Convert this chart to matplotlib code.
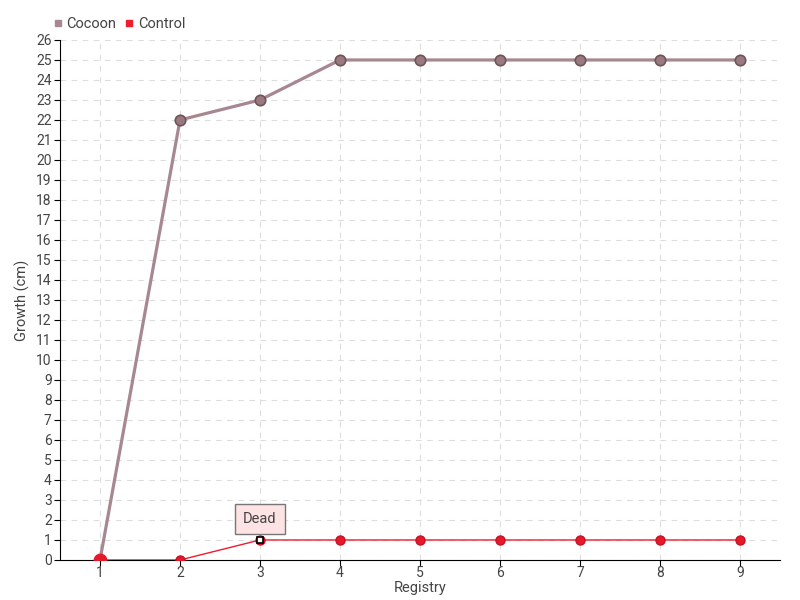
import matplotlib
matplotlib.use("Agg")
from matplotlib import pyplot as plt
from matplotlib.lines import Line2D

registry = [1, 2, 3, 4, 5, 6, 7, 8, 9]
cocoon = [0, 22, 23, 25, 25, 25, 25, 25, 25]
control = [0, 0, 1, 1, 1, 1, 1, 1, 1]
dead_at = (3, 1)

plt.rcParams['font.family'] = ['Roboto', 'DejaVu Sans']

fig = plt.figure(figsize=(8, 6), dpi=100)
ax = fig.add_axes([0.075, 0.0667, 0.9, 0.8667])

ax.plot(registry, cocoon, color='#a88890', lw=2.3, marker='o', ms=7.5,
        mfc='#9a7a80', mec='#6e5458', mew=1.2, zorder=3)
ax.plot(registry, control, color='#ee1c2c', lw=1, marker='o', ms=6.5,
        mfc='#e41a2c', mec='#c81020', zorder=4)
ax.plot(registry[0], control[0], 'o', ms=9, color='#e41a2c', zorder=5)
ax.plot(*dead_at, marker='s', ms=4.5, mfc='white', mec='black', mew=1.2, zorder=6)

ax.annotate('Dead', xy=dead_at, xytext=(0, 15), textcoords='offset points',
            ha='center', va='center', fontsize=10.5, color='#444444',
            bbox=dict(boxstyle='square,pad=0.55', fc='#fde3e3', ec='#777777', lw=1),
            arrowprops=dict(arrowstyle='-', color='#777777', lw=1, shrinkA=0, shrinkB=3),
            zorder=7)

ax.set_xlim(0.5, 9.5)
ax.set_ylim(0, 26)
ax.set_xticks(registry)
ax.set_yticks(range(0, 27))
ax.grid(True, ls=(0, (5, 5)), color='#dddddd', lw=0.8)
ax.set_axisbelow(True)
for s in ['top', 'right']:
    ax.spines[s].set_visible(False)
ax.tick_params(color='black', labelcolor='#444444', labelsize=10, length=4, direction='out')
ax.tick_params(axis='x', pad=0)
ax.tick_params(axis='y', pad=2)
ax.set_xlabel('Registry', color='#444444', fontsize=10.5)
ax.set_ylabel('Growth (cm)', color='#444444', fontsize=10.5)
ax.xaxis.set_label_coords(0.5, -0.041)
ax.yaxis.set_label_coords(-0.042, 0.5)

handles = [Line2D([], [], ls='none', marker='s', ms=5, color='#a88890'),
           Line2D([], [], ls='none', marker='s', ms=5, color='#ee1c2c')]
fig.legend(handles, ['Cocoon', 'Control'], loc='upper left', bbox_to_anchor=(0.05, 0.993),
           ncol=2, frameon=False, handlelength=0.6, handletextpad=0.3,
           columnspacing=0.6, fontsize=10.5, labelcolor='#444444')

fig.savefig('out.png', dpi=100)
